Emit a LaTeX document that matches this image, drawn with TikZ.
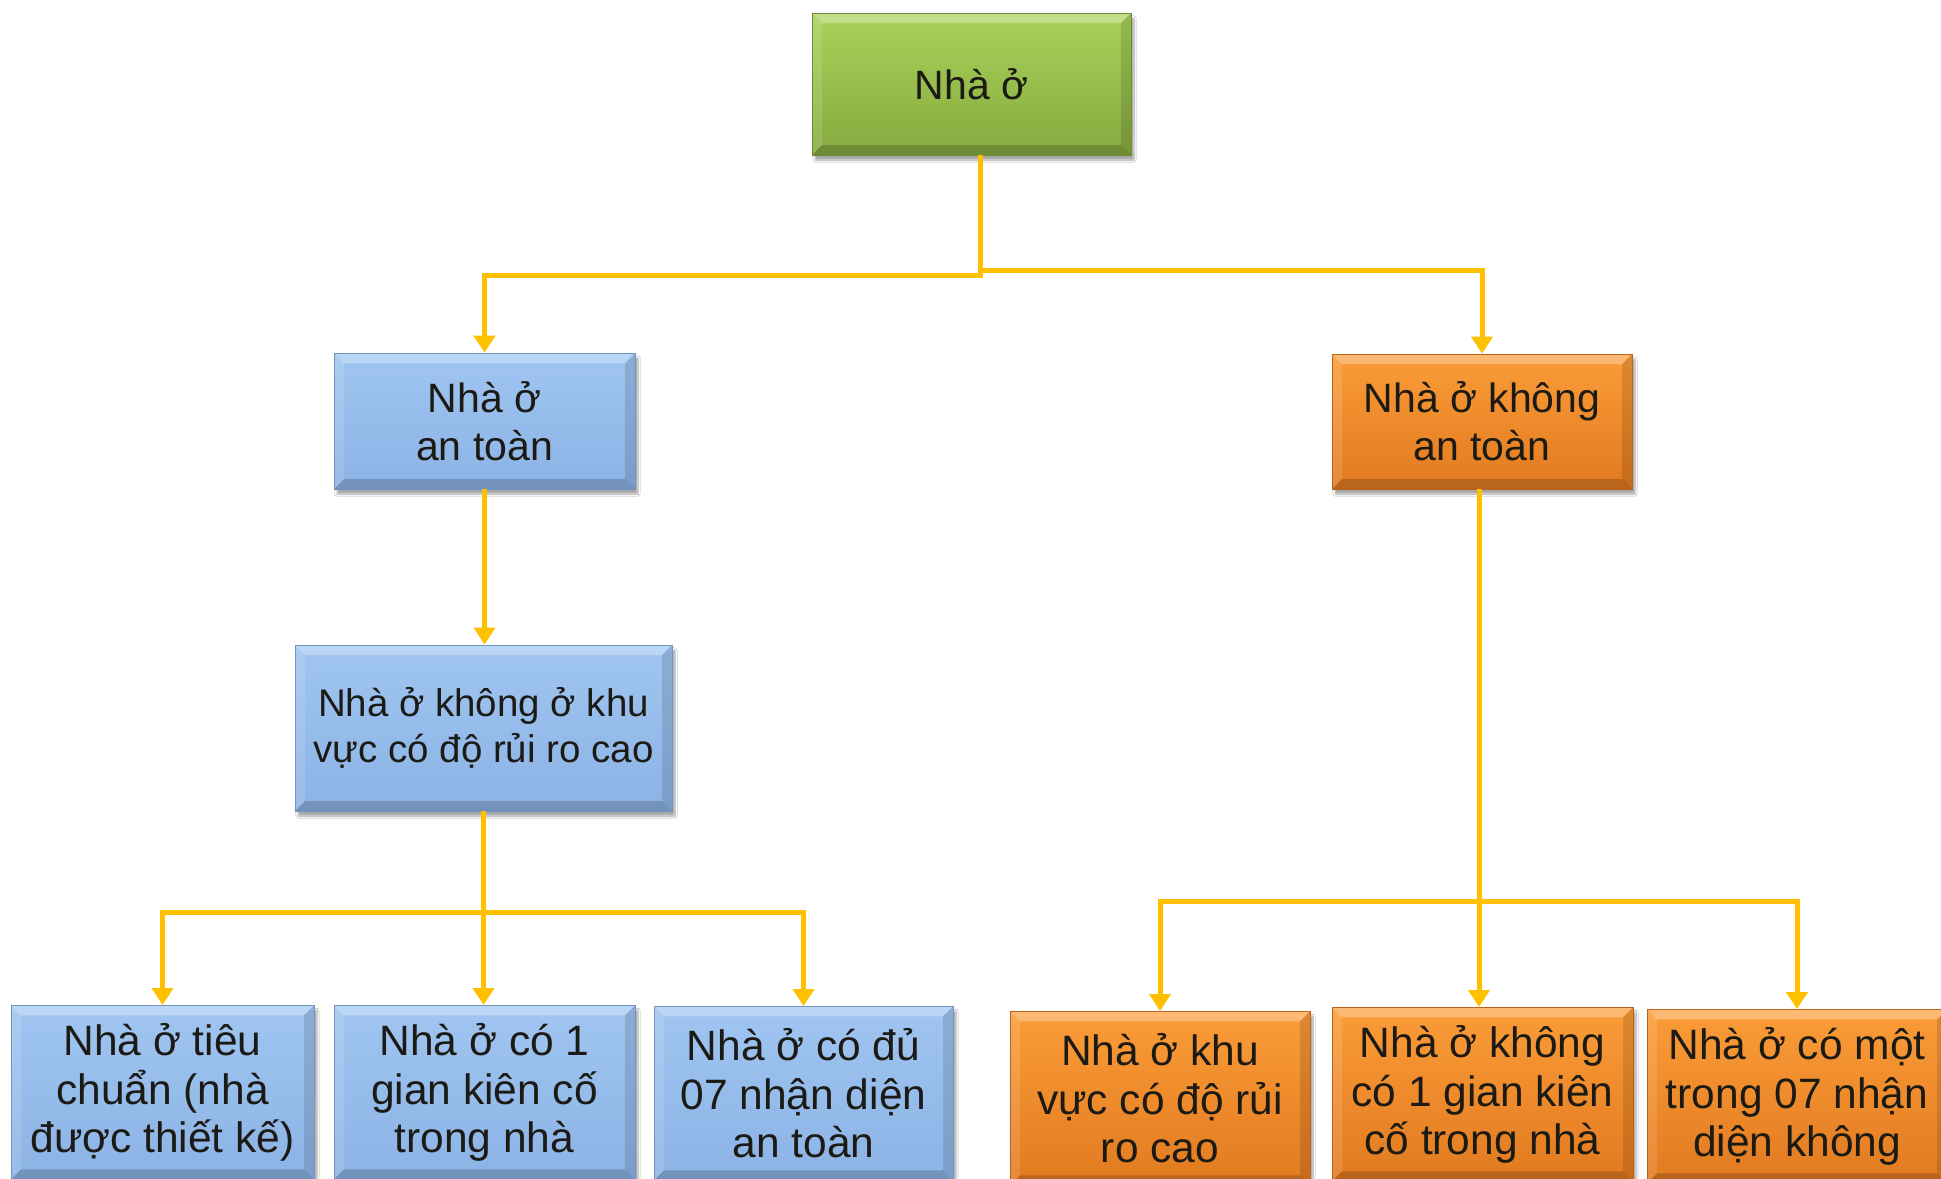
\documentclass[tikz,border=0pt]{standalone}
\usepackage{fontspec}
\setmainfont{Liberation Sans}
\usetikzlibrary{arrows.meta,shadows.blur}
\definecolor{conncol}{HTML}{FFC000}
\definecolor{txtcol}{HTML}{1C1A14}
\definecolor{gtop}{HTML}{A9D25A}
\definecolor{gbot}{HTML}{86AA3F}
\definecolor{gedge}{HTML}{6F8E33}
\definecolor{btop}{HTML}{A0C5F1}
\definecolor{bbot}{HTML}{8CB3E5}
\definecolor{bedge}{HTML}{7093C0}
\definecolor{otop}{HTML}{FB9C38}
\definecolor{obot}{HTML}{E17A20}
\definecolor{oedge}{HTML}{B8621A}
\tikzset{
  bevelbox/.style={rectangle, inner sep=0pt, align=center,
    font=\fontsize{41}{48}\selectfont, text=txtcol,
    blur shadow={shadow xshift=3pt, shadow yshift=-5pt, shadow blur steps=6, shadow opacity=35},
    path picture={
      \fill[white,opacity=0.30] (path picture bounding box.north west) -- (path picture bounding box.north east)
        -- ([shift={(-10pt,-10pt)}]path picture bounding box.north east) -- ([shift={(10pt,-10pt)}]path picture bounding box.north west) -- cycle;
      \fill[white,opacity=0.12] (path picture bounding box.north west) -- ([shift={(10pt,-10pt)}]path picture bounding box.north west)
        -- ([shift={(10pt,10pt)}]path picture bounding box.south west) -- (path picture bounding box.south west) -- cycle;
      \fill[black,opacity=0.18] (path picture bounding box.south west) -- (path picture bounding box.south east)
        -- ([shift={(-10pt,10pt)}]path picture bounding box.south east) -- ([shift={(10pt,10pt)}]path picture bounding box.south west) -- cycle;
      \fill[black,opacity=0.12] (path picture bounding box.north east) -- ([shift={(-10pt,-10pt)}]path picture bounding box.north east)
        -- ([shift={(-10pt,10pt)}]path picture bounding box.south east) -- (path picture bounding box.south east) -- cycle;
    }},
  greenbox/.style={bevelbox, top color=gtop, bottom color=gbot, draw=gedge, line width=0.8pt},
  bluebox/.style={bevelbox, top color=btop, bottom color=bbot, draw=bedge, line width=0.8pt},
  orangebox/.style={bevelbox, top color=otop, bottom color=obot, draw=oedge, line width=0.8pt},
  lowbox/.style={anchor=north, minimum height=174pt, font=\fontsize{42.5}{48.5}\selectfont},
  conn/.style={draw=conncol, line width=5pt, -{Triangle[width=21pt,length=17pt]}},
}
\begin{document}
\begin{tikzpicture}[x=1pt,y=-1pt]
\useasboundingbox (0,0) rectangle (1941,1178);
\clip (0,0) rectangle (1941,1178);
\fill[white] (0,0) rectangle (1941,1178);

% nodes
\node[greenbox, minimum width=319pt, minimum height=142pt] (top) at (971.5,84) {Nhà ở};
\node[bluebox, minimum width=301pt, minimum height=136pt] (safe) at (484.5,421) {Nhà ở\\an toàn};
\node[orangebox, minimum width=300pt, minimum height=135pt] (unsafe) at (1482,421.5) {Nhà ở không\\an toàn};
\node[bluebox, minimum width=377pt, minimum height=166pt, font=\fontsize{38.5}{46}\selectfont] (notrisk) at (483.5,728) {Nhà ở không ở khu\\vực có độ rủi ro cao};

\node[bluebox, lowbox, minimum width=303pt] (b1) at (162.5,1005) {Nhà ở tiêu\\chuẩn (nhà\\được thiết kế)};
\node[bluebox, lowbox, minimum width=301pt] (b2) at (484.5,1005) {Nhà ở có 1\\gian kiên cố\\trong nhà};
\node[bluebox, lowbox, minimum width=299pt] (b3) at (803.5,1006) {Nhà ở có đủ\\07 nhận diện\\an toàn};

\node[orangebox, lowbox, minimum width=300pt] (r1) at (1160,1011) {Nhà ở khu\\vực có độ rủi\\ro cao};
\node[orangebox, lowbox, minimum width=301pt] (r2) at (1482.5,1007) {Nhà ở không\\có 1 gian kiên\\cố trong nhà};
\node[orangebox, lowbox, minimum width=300pt] (r3) at (1797,1009) {Nhà ở có một\\trong 07 nhận\\diện không};

% junctions
\coordinate (j1) at (980,275);
\coordinate (j2) at (980,270);
\coordinate (j3) at (483.5,912);
\coordinate (j4) at (1479,901);

% connectors
\draw[conn] (j1 |- top.south) -- (j1) -| (safe.north);
\draw[conn] (j2) -| (unsafe.north);
\draw[conn] (safe.south) -- (safe.south |- notrisk.north);
\draw[conn] (notrisk.south) -- (j3) -| (b1.north);
\draw[conn] (j3) -| (b3.north);
\draw[conn] (j3) -- (j3 |- b2.north);
\draw[conn] (j4 |- unsafe.south) -- (j4) -| (r1.north);
\draw[conn] (j4) -| (r3.north);
\draw[conn] (j4) -- (j4 |- r2.north);
\end{tikzpicture}
\end{document}
